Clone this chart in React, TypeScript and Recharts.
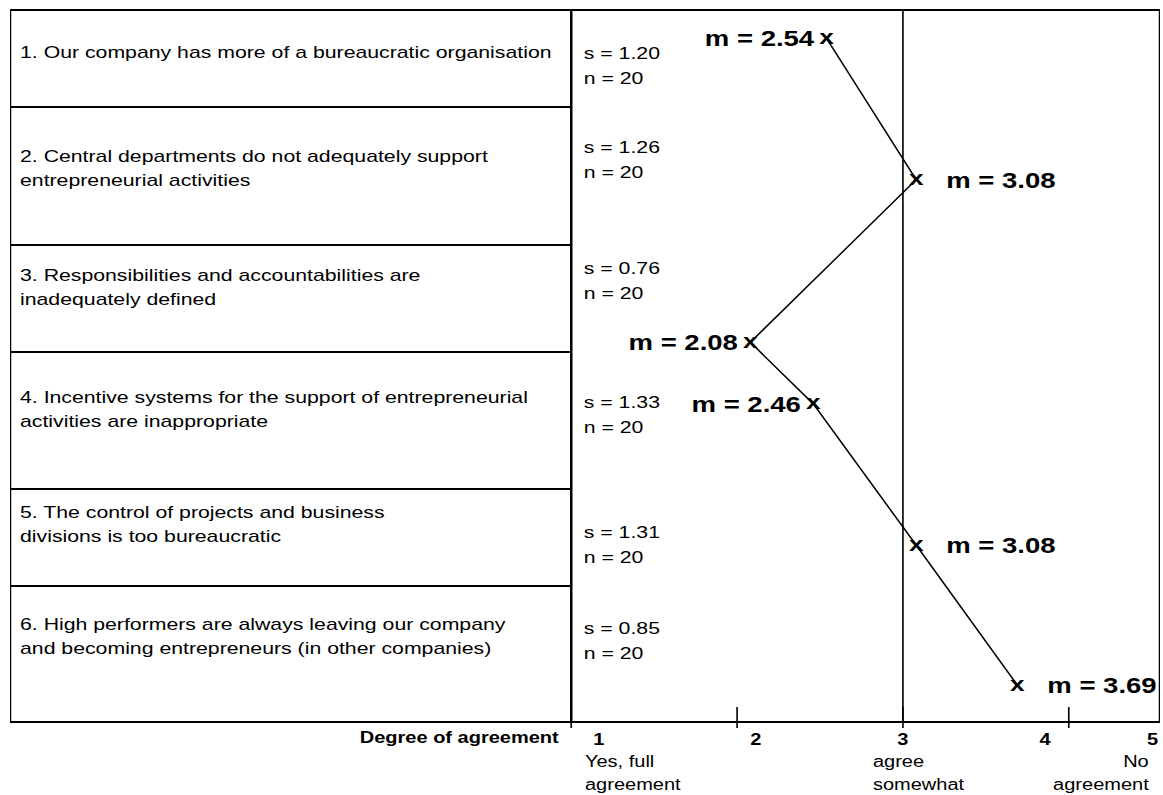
import { ScatterChart, Scatter, XAxis, YAxis, ReferenceLine, Label } from 'recharts'

// statements of the survey, one entry per row (already broken into lines)
const statements = [
  ['1. Our company has more of a bureaucratic organisation'],
  ['2. Central departments do not adequately support', 'entrepreneurial activities'],
  ['3. Responsibilities and accountabilities are', 'inadequately defined'],
  ['4. Incentive systems for the support of entrepreneurial', 'activities are inappropriate'],
  ['5. The control of projects and business', 'divisions is too bureaucratic'],
  ['6. High performers are always leaving our company', 'and becoming entrepreneurs (in other companies)'],
]
const means = [2.54, 3.08, 2.08, 2.46, 3.08, 3.69]
const stdDevs = [1.2, 1.26, 0.76, 1.33, 1.31, 0.85]
const sampleSizes = [20, 20, 20, 20, 20, 20]
// where each mean sits vertically, in row units counted from the top
const rowPositions = [0.24, 1.43, 2.8, 3.32, 4.51, 5.69]

const scaleTicks = [1, 2, 3, 4]
const scaleEnd = 5
const scaleLabels = [['Yes, full', 'agreement'], [], ['agree', 'somewhat'], [], ['No', 'agreement']]

// layout (the reference is stretched sideways, so everything is drawn narrow and scaled)
const SX = 1.25
const W = 1163 / SX
const H = 795
const FRAME_L = 8
const FRAME_R = 928
const FRAME_T = 10
const FRAME_B = 722
const DIVIDER = 457
const rowHeights = [97, 138, 107, 137, 97, 136]
const textTop = [31, 38, 19, 34, 12, 27]
const statsTop = [32, 29, 12, 39, 32, 31]
const labelSide = ['left', 'right', 'left', 'left', 'right', 'right']
const tickNudge = [22, 15, 0, -19]
const descNudge = [11, 0, -24, 0]

const rowTops = rowHeights.map((_, i) => FRAME_T + rowHeights.slice(0, i).reduce((a, b) => a + b, 0))

const points = means.map((m, i) => ({ mean: m, pos: rowPositions[i], side: labelSide[i] }))

function ScaleTick(props: any) {
  const { x, y, payload } = props
  const i = scaleTicks.indexOf(payload.value)
  return (
    <g>
      <line x1={x} x2={x} y1={y - 15} y2={y + 6} stroke="#000" strokeWidth={1.3} />
      <text x={x + tickNudge[i]} y={y + 23} textAnchor="middle" fontWeight="bold" fontSize={16} fill="#000">
        {payload.value}
      </text>
      {scaleLabels[i].map((line, k) => (
        <text key={k} x={x + descNudge[i]} y={y + 45 + k * 23} fontSize={16} fill="#000">
          {line}
        </text>
      ))}
    </g>
  )
}

function AxisEnds(props: any) {
  const { viewBox } = props
  const { x, y, width } = viewBox
  const right = x + width
  return (
    <g>
      <text x={x - 10} y={y + 21} textAnchor="end" fontWeight="bold" fontSize={16} fill="#000">
        Degree of agreement
      </text>
      <text x={right - 6} y={y + 23} textAnchor="middle" fontWeight="bold" fontSize={16} fill="#000">
        {scaleEnd}
      </text>
      {scaleLabels[4].map((line, k) => (
        <text key={k} x={right - 9} y={y + 45 + k * 23} textAnchor="end" fontSize={16} fill="#000">
          {line}
        </text>
      ))}
    </g>
  )
}

function MeanMark(props: any) {
  const { cx, cy, payload } = props
  const left = payload.side === 'left'
  return (
    <g>
      <text x={cx} y={cy + 5.5} textAnchor="middle" fontWeight="bold" fontSize={21} fill="#000">
        x
      </text>
      <text
        x={left ? cx - 10 : cx + 24}
        y={cy + 8}
        textAnchor={left ? 'end' : 'start'}
        fontWeight="bold"
        fontSize={22}
        fill="#000"
      >
        m = {payload.mean.toFixed(2)}
      </text>
    </g>
  )
}

export default function App() {
  return (
    <div
      style={{
        position: 'absolute',
        left: 0,
        top: 0,
        width: W,
        height: H,
        background: '#fff',
        transform: `scaleX(${SX})`,
        transformOrigin: '0 0',
        fontFamily: '"Liberation Sans", Arial, sans-serif',
        color: '#000',
      }}
    >
      {/* outer frame */}
      <div
        style={{
          position: 'absolute',
          left: FRAME_L,
          top: FRAME_T - 1,
          width: FRAME_R - FRAME_L,
          height: FRAME_B - FRAME_T + 2,
          borderTop: '2px solid #000',
          borderBottom: '2px solid #000',
          borderLeft: '1.6px solid #000',
          borderRight: '1.6px solid #000',
          boxSizing: 'border-box',
        }}
      />
      <div style={{ position: 'absolute', left: DIVIDER - 0.8, top: FRAME_T - 1, width: 1.6, height: FRAME_B - FRAME_T + 2, background: '#000' }} />

      {statements.map((lines, i) => (
        <div key={i}>
          {i > 0 && (
            <div style={{ position: 'absolute', left: FRAME_L, top: rowTops[i] - 1, width: DIVIDER - FRAME_L, height: 2, background: '#000' }} />
          )}
          <div style={{ position: 'absolute', left: 16, top: rowTops[i] + textTop[i], fontSize: 17, lineHeight: '24px', whiteSpace: 'nowrap' }}>
            {lines.map((l, k) => (
              <div key={k}>{l}</div>
            ))}
          </div>
          <div style={{ position: 'absolute', left: DIVIDER + 10, top: rowTops[i] + statsTop[i], fontSize: 17, lineHeight: '24.5px', whiteSpace: 'nowrap' }}>
            <div>s = {stdDevs[i].toFixed(2)}</div>
            <div>n = {sampleSizes[i]}</div>
          </div>
        </div>
      ))}

      <div style={{ position: 'absolute', left: 0, top: 0 }}>
        <ScatterChart width={W} height={H} margin={{ top: FRAME_T, right: W - FRAME_R, left: DIVIDER, bottom: 0 }}>
          <XAxis
            type="number"
            dataKey="mean"
            domain={[1, 4.55]}
            ticks={scaleTicks}
            height={H - FRAME_B}
            tickSize={0}
            tickMargin={0}
            tickLine={false}
            axisLine={{ stroke: '#000', strokeWidth: 2 }}
            tick={<ScaleTick />}
            interval={0}
          >
            <Label content={<AxisEnds />} />
          </XAxis>
          <YAxis type="number" dataKey="pos" domain={[0, 6]} reversed hide width={0} />
          <ReferenceLine x={3} stroke="#000" strokeWidth={1.3} ifOverflow="extendDomain" />
          <Scatter
            data={points}
            line={{ stroke: '#000', strokeWidth: 1.3 }}
            shape={<MeanMark />}
            isAnimationActive={false}
          />
        </ScatterChart>
      </div>
    </div>
  )
}
